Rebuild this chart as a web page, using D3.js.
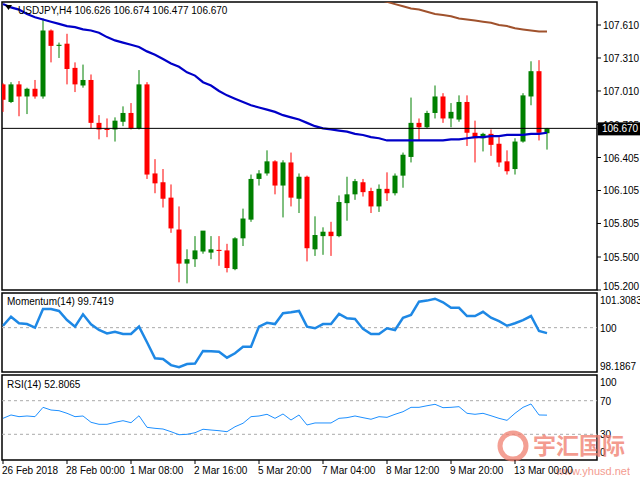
<!DOCTYPE html>
<html><head><meta charset="utf-8">
<script src="https://cdn.jsdelivr.net/npm/d3@7"></script>
<style>
body{margin:0;background:#fff}
text{font-family:"Liberation Sans",Arial,sans-serif;font-size:10px;fill:#000}
</style></head><body>
<script>
// OHLC, one entry per 4h bar
var opens  = [107.07,106.91,107.07,106.96,107.03,106.96,107.56,107.42,107.44,107.22,107.06,107.11,106.72,106.665,106.66,106.73,106.81,106.67,107.07,106.26,106.18,106.04,105.75,105.44,105.48,105.55,105.54,105.565,105.56,105.39,105.67,105.84,106.21,106.26,106.37,106.15,106.36,106.03,106.23,105.57,105.69,105.73,105.69,105.99,106.07,106.18,106.10,105.96,106.12,106.08,106.24,106.41,106.72,106.68,106.81,106.96,106.76,106.75,106.91,106.63,106.58,106.62,106.53,106.37,106.30,106.55,106.96,107.19,106.626];
var highs  = [107.08,107.09,107.10,107.04,107.11,107.67,107.57,107.45,107.53,107.27,107.25,107.16,106.79,106.76,106.77,106.87,106.90,107.20,107.09,106.39,106.30,106.16,105.96,105.57,105.69,105.72,105.69,105.69,105.62,105.68,105.94,106.25,106.29,106.47,106.38,106.38,106.45,106.26,106.24,105.87,105.77,105.82,106.06,106.23,106.21,106.21,106.13,106.16,106.27,106.26,106.45,106.95,106.76,106.83,107.06,106.99,106.90,106.97,106.97,106.74,106.63,106.66,106.59,106.47,106.58,106.99,107.28,107.29,106.674];
var lows   = [106.82,106.90,106.78,106.80,106.94,106.94,107.27,107.31,107.07,107.00,107.04,106.67,106.57,106.59,106.55,106.69,106.66,106.66,106.21,106.08,105.95,105.72,105.27,105.26,105.41,105.53,105.48,105.42,105.36,105.38,105.60,105.82,106.15,106.24,106.07,105.86,105.96,105.90,105.46,105.51,105.52,105.51,105.68,105.83,106.02,106.05,105.90,105.91,106.01,106.06,106.13,106.36,106.56,106.67,106.76,106.72,106.68,106.73,106.51,106.36,106.46,106.42,106.32,106.25,106.25,106.54,106.88,106.56,106.477];
var closes = [106.93,107.07,106.96,107.03,106.96,107.56,107.42,107.43,107.21,107.07,107.11,106.72,106.66,106.655,106.74,106.81,106.67,107.07,106.25,106.17,106.03,105.76,105.44,105.48,105.56,105.74,105.57,105.555,105.40,105.67,105.85,106.21,106.26,106.37,106.15,106.36,106.04,106.23,105.58,105.70,105.73,105.69,106.00,106.07,106.19,106.09,105.96,106.12,106.08,106.24,106.43,106.72,106.68,106.81,106.96,106.76,106.82,106.91,106.63,106.58,106.62,106.52,106.36,106.28,106.55,106.97,107.19,106.63,106.670];

var maFast = [107.80,107.77,107.75,107.71,107.68,107.66,107.64,107.62,107.60,107.59,107.57,107.56,107.54,107.50,107.47,107.45,107.43,107.41,107.37,107.34,107.30,107.26,107.23,107.18,107.15,107.09,107.06,107.01,106.97,106.94,106.91,106.88,106.86,106.84,106.82,106.79,106.77,106.75,106.72,106.69,106.67,106.66,106.65,106.64,106.62,106.61,106.59,106.58,106.56,106.56,106.56,106.56,106.56,106.56,106.56,106.56,106.57,106.57,106.58,106.59,106.59,106.60,106.60,106.61,106.61,106.61,106.62,106.62,106.63];
var maSlowStart = 46;
var maSlow = [107.86,107.84,107.82,107.80,107.78,107.76,107.75,107.73,107.71,107.70,107.69,107.67,107.66,107.65,107.64,107.63,107.61,107.60,107.58,107.57,107.56,107.55,107.55];

var momentum = [100.09,100.52,100.21,100.17,100.00,100.88,100.88,100.79,100.36,100.05,100.63,100.16,99.89,99.73,99.81,99.70,99.70,100.05,99.31,98.55,98.52,98.23,98.13,98.28,98.30,98.90,98.88,98.86,98.58,98.79,99.10,99.10,100.05,100.23,100.17,100.68,100.73,100.79,100.05,99.97,100.17,100.17,100.65,100.44,100.41,99.94,99.70,99.70,99.97,99.89,100.47,100.60,101.23,101.28,101.37,101.20,100.94,100.94,100.55,100.55,100.75,100.47,100.31,100.09,100.21,100.36,100.55,99.84,99.74];
var rsi = [49.0,53.0,51.0,51.8,51.0,62.1,58.9,58.1,55.0,51.0,51.8,44.3,41.9,41.9,44.3,46.2,43.8,52.1,38.3,37.1,36.3,33.1,29.5,30.0,31.9,36.0,35.1,34.3,33.1,39.0,43.1,51.0,51.8,53.8,49.0,54.2,47.0,53.0,41.1,43.5,43.5,43.5,49.0,49.8,51.8,49.8,47.9,51.0,50.2,53.8,56.9,62.1,62.1,64.0,65.7,61.7,62.1,62.9,55.0,53.8,55.0,52.1,49.0,46.6,55.0,62.1,66.1,53.0,52.8];

var priceTicks = [107.610,107.310,107.010,106.705,106.405,106.105,105.805,105.500,105.200];
var momTicks = [101.3083,100,98.1867];
var rsiTicks = [100,70,30,0];
var dateLabels = ["26 Feb 2018","28 Feb 00:00","1 Mar 08:00","2 Mar 16:00","5 Mar 20:00","7 Mar 04:00","8 Mar 12:00","9 Mar 20:00","13 Mar 00:00"];
var dateIdx = [0,8,16,24,32,40,48,56,64];
var lastPrice = 106.670;

var W = 640, H = 480, L = 2, R = 597;
var svg = d3.select('body').append('svg').attr('width', W).attr('height', H);

var x = d3.scaleLinear().domain([0, 68]).range([3, 547]);
var y = d3.scaleLinear().domain([105.2, 107.61]).range([290, 25]);
var yM = d3.scaleLinear().domain([98.1867, 101.3083]).range([366, 300]);
var yR = d3.scaleLinear().domain([0, 100]).range([459.5, 375.5]);
var idx = d3.range(opens.length);

svg.append('defs').append('clipPath').attr('id', 'clipMain')
    .append('rect').attr('x', L).attr('y', 2).attr('width', R - L).attr('height', 288);

// panel frames
[[2, 290], [293, 372], [375, 460]].forEach(function(p) {
    svg.append('rect').attr('x', L).attr('y', p[0]).attr('width', R - L).attr('height', p[1] - p[0])
        .attr('fill', 'none').attr('stroke', '#000').attr('stroke-width', 1.5);
});

var main = svg.append('g').attr('clip-path', 'url(#clipMain)');

// candles
var c = main.selectAll('g.c').data(idx).enter().append('g');
c.append('line')
    .attr('x1', function(i) { return x(i); }).attr('x2', function(i) { return x(i); })
    .attr('y1', function(i) { return y(highs[i]); }).attr('y2', function(i) { return y(lows[i]); })
    .attr('stroke', function(i) { return closes[i] >= opens[i] ? '#008000' : '#ff0000'; });
c.append('rect')
    .attr('x', function(i) { return x(i) - 2.5; }).attr('width', 5)
    .attr('y', function(i) { return y(Math.max(opens[i], closes[i])); })
    .attr('height', function(i) { return Math.max(1, Math.abs(y(opens[i]) - y(closes[i]))); })
    .attr('fill', function(i) { return closes[i] >= opens[i] ? '#008000' : '#ff0000'; });

var maLine = d3.line().x(function(d) { return x(d[0]); }).y(function(d) { return y(d[1]); });
main.append('path').datum(maFast.map(function(v, i) { return [i, v]; }))
    .attr('d', maLine).attr('fill', 'none').attr('stroke', '#0000c8').attr('stroke-width', 2.2);
main.append('path').datum(maSlow.map(function(v, i) { return [i + maSlowStart, v]; }))
    .attr('d', maLine).attr('fill', 'none').attr('stroke', '#a0522d').attr('stroke-width', 2);

// current price line
main.append('line').attr('x1', L).attr('x2', R).attr('y1', y(lastPrice)).attr('y2', y(lastPrice))
    .attr('stroke', '#000');

// header
svg.append('path').attr('d', 'M5,5 L12,5 L8.5,10 Z').attr('fill', '#000');
svg.append('text').attr('x', 18).attr('y', 14)
    .text('USDJPY,H4  106.626 106.674 106.477 106.670');

// right axis, main
priceTicks.forEach(function(v) {
    svg.append('line').attr('x1', R).attr('x2', R + 4).attr('y1', y(v)).attr('y2', y(v)).attr('stroke', '#000');
    svg.append('text').attr('x', 603).attr('y', Math.min(y(v), 286) + 4).text(v.toFixed(3));
});
svg.append('rect').attr('x', 598).attr('y', y(lastPrice) - 6).attr('width', 42).attr('height', 13).attr('fill', '#000');
svg.append('text').attr('x', 602).attr('y', y(lastPrice) + 4).style('fill', '#fff').text(lastPrice.toFixed(3));

// momentum
svg.append('line').attr('x1', L).attr('x2', R).attr('y1', yM(100)).attr('y2', yM(100))
    .attr('stroke', '#aaa').attr('stroke-dasharray', '3,3');
svg.append('path').datum(momentum)
    .attr('d', d3.line().x(function(d, i) { return x(i); }).y(function(d) { return yM(d); }))
    .attr('fill', 'none').attr('stroke', '#1e88e5').attr('stroke-width', 2.5);
svg.append('text').attr('x', 7).attr('y', 305).text('Momentum(14) 99.7419');
momTicks.forEach(function(v) {
    svg.append('text').attr('x', 600).attr('y', yM(v) + 4).text(v === 100 ? '100' : v.toFixed(4));
});

// rsi
[70, 30].forEach(function(v) {
    svg.append('line').attr('x1', L).attr('x2', R).attr('y1', yR(v)).attr('y2', yR(v))
        .attr('stroke', '#aaa').attr('stroke-dasharray', '3,3');
});
svg.append('path').datum(rsi)
    .attr('d', d3.line().x(function(d, i) { return x(i); }).y(function(d) { return yR(d); }))
    .attr('fill', 'none').attr('stroke', '#1e90ff').attr('stroke-width', 1);
svg.append('text').attr('x', 7).attr('y', 388).text('RSI(14) 52.8065');
rsiTicks.forEach(function(v) {
    var yy = Math.max(382, Math.min(452, yR(v)));
    svg.append('text').attr('x', 600).attr('y', yy + 4).text(v);
});

// watermark
var wm = svg.append('g').attr('opacity', 0.75);
wm.append('circle').attr('cx', 513).attr('cy', 446).attr('r', 13).attr('fill', 'none')
    .attr('stroke', '#f08070').attr('stroke-width', 5);
wm.append('text').attr('x', 533).attr('y', 454).style('font-size', '23px').style('fill', '#f07a6a')
    .style('font-family', '"Noto Sans CJK SC"').style('font-weight', 'bold').text('宇汇国际');
wm.append('text').attr('x', 556).attr('y', 475).style('font-size', '11px').style('fill', '#f07a6a')
    .text('www.yhusd.net');

// date axis
dateIdx.forEach(function(v, k) {
    svg.append('line').attr('x1', x(v)).attr('x2', x(v)).attr('y1', 460).attr('y2', 464).attr('stroke', '#000');
    svg.append('text').attr('x', x(v) - 1).attr('y', 474).text(dateLabels[k]);
});
</script>
</body></html>
